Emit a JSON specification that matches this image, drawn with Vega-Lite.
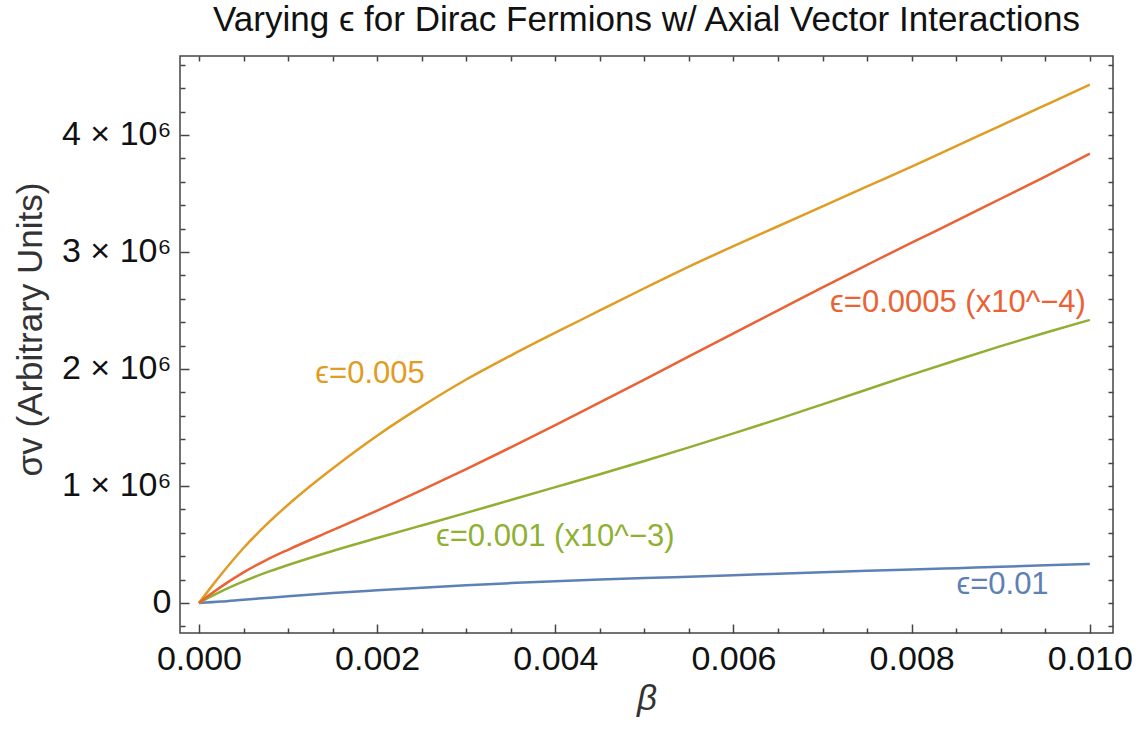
{
  "$schema": "https://vega.github.io/schema/vega-lite/v6.json",
  "width": 933,
  "height": 577,
  "autosize": {"type": "none"},
  "padding": {"left": 180, "top": 56, "right": 27, "bottom": 102},
  "background": "white",
  "title": {"text": "Varying ϵ for Dirac Fermions w/ Axial Vector Interactions", "font": "Liberation Sans", "fontSize": 35, "fontWeight": "normal", "color": "#111", "anchor": "middle", "offset": 10},
  "config": {
    "view": {"stroke": "#444", "strokeWidth": 1.5},
    "axis": {"domain": false, "grid": false, "labelFont": "Liberation Sans", "labelFontSize": 34, "labelColor": "#111", "titleFont": "Liberation Sans", "titleFontSize": 35, "titleFontWeight": "normal", "titleColor": "#333", "tickColor": "#444", "tickWidth": 1.5}
  },
  "datasets": {
    "curves": [
      {"beta": 0, "sigma": 0, "series": "0.01"},
      {"beta": 0.00025, "sigma": 12000, "series": "0.01"},
      {"beta": 0.0005, "sigma": 28000, "series": "0.01"},
      {"beta": 0.00075, "sigma": 43000, "series": "0.01"},
      {"beta": 0.001, "sigma": 58000, "series": "0.01"},
      {"beta": 0.0015, "sigma": 85000, "series": "0.01"},
      {"beta": 0.002, "sigma": 108000, "series": "0.01"},
      {"beta": 0.0025, "sigma": 130000, "series": "0.01"},
      {"beta": 0.003, "sigma": 152000, "series": "0.01"},
      {"beta": 0.0035, "sigma": 170000, "series": "0.01"},
      {"beta": 0.004, "sigma": 186000, "series": "0.01"},
      {"beta": 0.0045, "sigma": 200000, "series": "0.01"},
      {"beta": 0.005, "sigma": 213000, "series": "0.01"},
      {"beta": 0.0055, "sigma": 225000, "series": "0.01"},
      {"beta": 0.006, "sigma": 237000, "series": "0.01"},
      {"beta": 0.0065, "sigma": 250000, "series": "0.01"},
      {"beta": 0.007, "sigma": 262000, "series": "0.01"},
      {"beta": 0.0075, "sigma": 275000, "series": "0.01"},
      {"beta": 0.008, "sigma": 287000, "series": "0.01"},
      {"beta": 0.0085, "sigma": 298000, "series": "0.01"},
      {"beta": 0.009, "sigma": 310000, "series": "0.01"},
      {"beta": 0.0095, "sigma": 322000, "series": "0.01"},
      {"beta": 0.01, "sigma": 333000, "series": "0.01"},
      {"beta": 0, "sigma": 0, "series": "0.005"},
      {"beta": 0.000125, "sigma": 125000, "series": "0.005"},
      {"beta": 0.00025, "sigma": 245000, "series": "0.005"},
      {"beta": 0.0005, "sigma": 470000, "series": "0.005"},
      {"beta": 0.00075, "sigma": 665000, "series": "0.005"},
      {"beta": 0.001, "sigma": 840000, "series": "0.005"},
      {"beta": 0.00125, "sigma": 1000000, "series": "0.005"},
      {"beta": 0.0015, "sigma": 1150000, "series": "0.005"},
      {"beta": 0.002, "sigma": 1430000, "series": "0.005"},
      {"beta": 0.0025, "sigma": 1680000, "series": "0.005"},
      {"beta": 0.003, "sigma": 1910000, "series": "0.005"},
      {"beta": 0.0035, "sigma": 2115000, "series": "0.005"},
      {"beta": 0.004, "sigma": 2310000, "series": "0.005"},
      {"beta": 0.0045, "sigma": 2500000, "series": "0.005"},
      {"beta": 0.005, "sigma": 2690000, "series": "0.005"},
      {"beta": 0.0055, "sigma": 2875000, "series": "0.005"},
      {"beta": 0.006, "sigma": 3050000, "series": "0.005"},
      {"beta": 0.0065, "sigma": 3220000, "series": "0.005"},
      {"beta": 0.007, "sigma": 3390000, "series": "0.005"},
      {"beta": 0.0075, "sigma": 3560000, "series": "0.005"},
      {"beta": 0.008, "sigma": 3730000, "series": "0.005"},
      {"beta": 0.0085, "sigma": 3905000, "series": "0.005"},
      {"beta": 0.009, "sigma": 4080000, "series": "0.005"},
      {"beta": 0.0095, "sigma": 4255000, "series": "0.005"},
      {"beta": 0.01, "sigma": 4430000, "series": "0.005"},
      {"beta": 0, "sigma": 0, "series": "0.001"},
      {"beta": 0.000125, "sigma": 52000, "series": "0.001"},
      {"beta": 0.00025, "sigma": 100000, "series": "0.001"},
      {"beta": 0.0005, "sigma": 185000, "series": "0.001"},
      {"beta": 0.00075, "sigma": 260000, "series": "0.001"},
      {"beta": 0.001, "sigma": 325000, "series": "0.001"},
      {"beta": 0.0015, "sigma": 445000, "series": "0.001"},
      {"beta": 0.002, "sigma": 555000, "series": "0.001"},
      {"beta": 0.0025, "sigma": 663000, "series": "0.001"},
      {"beta": 0.003, "sigma": 770000, "series": "0.001"},
      {"beta": 0.0035, "sigma": 880000, "series": "0.001"},
      {"beta": 0.004, "sigma": 990000, "series": "0.001"},
      {"beta": 0.0045, "sigma": 1100000, "series": "0.001"},
      {"beta": 0.005, "sigma": 1213000, "series": "0.001"},
      {"beta": 0.0055, "sigma": 1330000, "series": "0.001"},
      {"beta": 0.006, "sigma": 1450000, "series": "0.001"},
      {"beta": 0.0065, "sigma": 1572000, "series": "0.001"},
      {"beta": 0.007, "sigma": 1698000, "series": "0.001"},
      {"beta": 0.0075, "sigma": 1825000, "series": "0.001"},
      {"beta": 0.008, "sigma": 1952000, "series": "0.001"},
      {"beta": 0.0085, "sigma": 2075000, "series": "0.001"},
      {"beta": 0.009, "sigma": 2195000, "series": "0.001"},
      {"beta": 0.0095, "sigma": 2310000, "series": "0.001"},
      {"beta": 0.01, "sigma": 2420000, "series": "0.001"},
      {"beta": 0, "sigma": 0, "series": "0.0005"},
      {"beta": 0.000125, "sigma": 72000, "series": "0.0005"},
      {"beta": 0.00025, "sigma": 140000, "series": "0.0005"},
      {"beta": 0.0005, "sigma": 262000, "series": "0.0005"},
      {"beta": 0.00075, "sigma": 365000, "series": "0.0005"},
      {"beta": 0.001, "sigma": 455000, "series": "0.0005"},
      {"beta": 0.0015, "sigma": 622000, "series": "0.0005"},
      {"beta": 0.002, "sigma": 790000, "series": "0.0005"},
      {"beta": 0.0025, "sigma": 965000, "series": "0.0005"},
      {"beta": 0.003, "sigma": 1145000, "series": "0.0005"},
      {"beta": 0.0035, "sigma": 1330000, "series": "0.0005"},
      {"beta": 0.004, "sigma": 1520000, "series": "0.0005"},
      {"beta": 0.0045, "sigma": 1715000, "series": "0.0005"},
      {"beta": 0.005, "sigma": 1910000, "series": "0.0005"},
      {"beta": 0.0055, "sigma": 2108000, "series": "0.0005"},
      {"beta": 0.006, "sigma": 2305000, "series": "0.0005"},
      {"beta": 0.0065, "sigma": 2500000, "series": "0.0005"},
      {"beta": 0.007, "sigma": 2698000, "series": "0.0005"},
      {"beta": 0.0075, "sigma": 2890000, "series": "0.0005"},
      {"beta": 0.008, "sigma": 3080000, "series": "0.0005"},
      {"beta": 0.0085, "sigma": 3265000, "series": "0.0005"},
      {"beta": 0.009, "sigma": 3455000, "series": "0.0005"},
      {"beta": 0.0095, "sigma": 3645000, "series": "0.0005"},
      {"beta": 0.01, "sigma": 3840000, "series": "0.0005"}
    ],
    "labels": [
      {"beta": 0.00192, "sigma": 1957000, "label": "ϵ=0.005", "series": "0.005"},
      {"beta": 0.00852, "sigma": 2564000, "label": "ϵ=0.0005 (x10^−4)", "series": "0.0005"},
      {"beta": 0.0040, "sigma": 564000, "label": "ϵ=0.001 (x10^−3)", "series": "0.001"},
      {"beta": 0.00902, "sigma": 154000, "label": "ϵ=0.01", "series": "0.01"}
    ]
  },
  "layer": [
    {
      "data": {"name": "curves"},
      "mark": {"type": "line", "strokeWidth": 2.5, "interpolate": "monotone"},
      "encoding": {
        "x": {"field": "beta", "type": "quantitative",
          "scale": {"domain": [-0.000213, 0.01026], "nice": false, "zero": false},
          "axis": {"orient": "bottom", "title": "β", "titleFontStyle": "italic", "titlePadding": 1,
            "values": [0, 0.0005, 0.001, 0.0015, 0.002, 0.0025, 0.003, 0.0035, 0.004, 0.0045, 0.005, 0.0055, 0.006, 0.0065, 0.007, 0.0075, 0.008, 0.0085, 0.009, 0.0095, 0.01],
            "labelExpr": "abs(datum.value*500 - round(datum.value*500)) < 0.001 ? format(datum.value, '.3f') : ''",
            "tickSize": {"condition": {"test": "abs(datum.value*500 - round(datum.value*500)) < 0.001", "value": -9}, "value": -5},
            "labelPadding": 18, "labelFlush": false, "labelOverlap": false}},
        "y": {"field": "sigma", "type": "quantitative",
          "scale": {"domain": [-256400, 4675000], "nice": false, "zero": false},
          "axis": {"orient": "left", "title": "σv (Arbitrary Units)", "titlePadding": 13, "titleY": 273,
            "values": [-200000, 0, 200000, 400000, 600000, 800000, 1000000, 1200000, 1400000, 1600000, 1800000, 2000000, 2200000, 2400000, 2600000, 2800000, 3000000, 3200000, 3400000, 3600000, 3800000, 4000000, 4200000, 4400000, 4600000],
            "labelExpr": "abs(datum.value/1e6 - round(datum.value/1e6)) < 0.001 ? (abs(datum.value) < 1 ? '0' : format(datum.value/1e6, 'd') + ' × 10⁶') : ''",
            "tickSize": {"condition": {"test": "abs(datum.value/1e6 - round(datum.value/1e6)) < 0.001", "value": -9}, "value": -5},
            "labelPadding": 18, "labelOverlap": false, "labelFlush": false}},
        "color": {"field": "series", "type": "nominal",
          "scale": {"domain": ["0.01", "0.005", "0.001", "0.0005"], "range": ["#5E81B5", "#E19C24", "#8FB032", "#EB6235"]},
          "legend": null}
      }
    },
    {
      "data": {"name": "labels"},
      "mark": {"type": "text", "font": "Liberation Sans", "fontSize": 31, "align": "center", "baseline": "middle"},
      "encoding": {
        "x": {"field": "beta", "type": "quantitative",
          "axis": {"orient": "top", "title": null, "labels": false,
            "values": [0, 0.0005, 0.001, 0.0015, 0.002, 0.0025, 0.003, 0.0035, 0.004, 0.0045, 0.005, 0.0055, 0.006, 0.0065, 0.007, 0.0075, 0.008, 0.0085, 0.009, 0.0095, 0.01],
            "tickSize": -5}},
        "y": {"field": "sigma", "type": "quantitative",
          "axis": {"orient": "right", "title": null, "labels": false,
            "values": [-200000, 0, 200000, 400000, 600000, 800000, 1000000, 1200000, 1400000, 1600000, 1800000, 2000000, 2200000, 2400000, 2600000, 2800000, 3000000, 3200000, 3400000, 3600000, 3800000, 4000000, 4200000, 4400000, 4600000],
            "tickSize": -5}},
        "text": {"field": "label", "type": "nominal"},
        "color": {"field": "series", "type": "nominal", "legend": null}
      }
    }
  ],
  "resolve": {"axis": {"x": "independent", "y": "independent"}}
}
